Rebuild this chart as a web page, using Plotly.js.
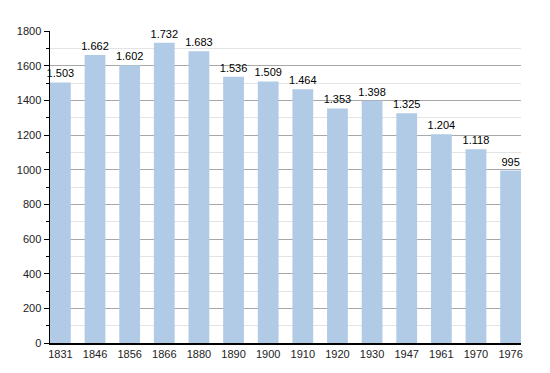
<!DOCTYPE html>
<html>
<head>
<meta charset="utf-8">
<script src="https://cdn.plot.ly/plotly-3.0.1.min.js"></script>
<style>html,body{margin:0;padding:0;background:#fff;}#chart{width:550px;height:373px;}</style>
</head>
<body>
<div id="chart"></div>
<script>
const years = ['1831','1846','1856','1866','1880','1890','1900','1910','1920','1930','1947','1961','1970','1976'];
const population = [1503,1662,1602,1732,1683,1536,1509,1464,1353,1398,1325,1204,1118,995];
const yTicks = [0,200,400,600,800,1000,1200,1400,1600,1800];

function fmt(v){ return String(v).replace(/\B(?=(\d{3})+(?!\d))/g,'.'); }
const labels = population.map(fmt);

const trace = {
  type:'bar',
  x: years,
  y: population,
  text: labels,
  textposition:'outside',
  constraintext:'none',
  cliponaxis:false,
  textfont:{family:'Liberation Sans, Arial, sans-serif', size:11, color:'#000'},
  marker:{color:'#b1cbe6', line:{width:0}},
  width:0.6,
  hoverinfo:'none'
};

const layout = {
  width:550, height:373,
  margin:{l:50, r:29, t:31, b:30},
  paper_bgcolor:'#fff', plot_bgcolor:'#fff',
  showlegend:false,
  uniformtext:{mode:false},
  font:{family:'Liberation Sans, Arial, sans-serif', size:11, color:'#000'},
  xaxis:{
    type:'category',
    range:[-0.3,13.3],
    showgrid:false,
    showline:true, linecolor:'#000', linewidth:1.5,
    ticks:'', tickfont:{size:11, color:'#222'},
    zeroline:false, fixedrange:true
  },
  yaxis:{
    range:[0,1800],
    tickvals:yTicks,
    ticktext:yTicks.map(String),
    showgrid:true, gridcolor:'#a8a8a8', gridwidth:1,
    showline:true, linecolor:'#000', linewidth:1.5,
    ticks:'outside', ticklen:5, tickcolor:'#000', tickwidth:1,
    tickfont:{size:11, color:'#222'},
    minor:{dtick:100, tick0:0, showgrid:true, gridcolor:'#e4e4e4', gridwidth:1, ticks:'outside', ticklen:3, tickcolor:'#000'},
    zeroline:false, fixedrange:true
  }
};

Plotly.newPlot('chart',[trace],layout,{displayModeBar:false, staticPlot:true});
</script>
</body>
</html>
